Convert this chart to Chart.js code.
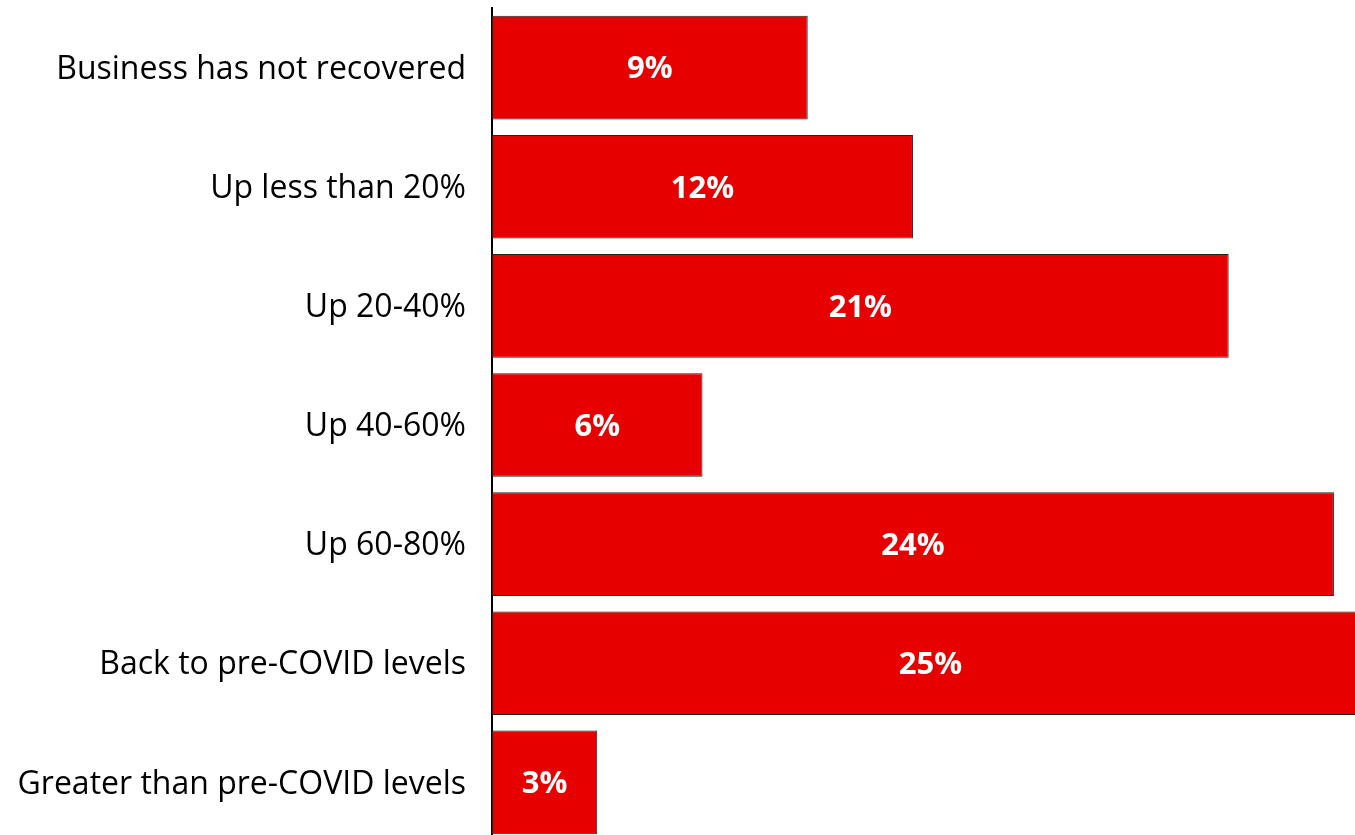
<!DOCTYPE html>
<html>
<head>
<meta charset="utf-8">
<script src="https://cdn.jsdelivr.net/npm/chart.js@4"></script>
<style>
    html, body { margin: 0; padding: 0; overflow: hidden; background: #fff; }
    #wrap { width: 1369px; height: 842px; position: relative; }
</style>
</head>
<body>
<div id="wrap"><canvas id="recoveryChart"></canvas></div>
<script>
const categories = [
    "Business has not recovered",
    "Up less than 20%",
    "Up 20-40%",
    "Up 40-60%",
    "Up 60-80%",
    "Back to pre-COVID levels",
    "Greater than pre-COVID levels"
];
const shares = [9, 12, 21, 6, 24, 25, 3];

const FONT = "'Open Sans', sans-serif";

// Write the value in the middle of each bar
const barLabels = {
    id: "barLabels",
    afterDatasetsDraw(chart) {
        const ctx = chart.ctx;
        const meta = chart.getDatasetMeta(0);
        ctx.save();
        ctx.fillStyle = "#ffffff";
        ctx.font = "bold 31px " + FONT;
        ctx.textAlign = "center";
        ctx.textBaseline = "middle";
        meta.data.forEach((bar, i) => {
            ctx.fillText(shares[i] + "%", (bar.x + bar.base) / 2, bar.y + 2);
        });
        ctx.restore();
    }
};

const ctx = document.getElementById("recoveryChart").getContext("2d");
new Chart(ctx, {
    type: "bar",
    data: {
        labels: categories,
        datasets: [{
            data: shares,
            backgroundColor: "#e60000",
            borderColor: "#222222",
            borderWidth: 1,
            borderSkipped: false,
            categoryPercentage: 1,
            barPercentage: 0.87
        }]
    },
    options: {
        indexAxis: "y",
        responsive: true,
        maintainAspectRatio: false,
        animation: false,
        layout: { padding: { top: 8, left: 0, right: 0, bottom: 0 } },
        plugins: {
            legend: { display: false },
            tooltip: { enabled: false }
        },
        scales: {
            x: {
                display: false,
                min: 0,
                max: 25
            },
            y: {
                grid: { display: false, drawTicks: false },
                border: { display: true, color: "#000000", width: 2 },
                ticks: {
                    color: "#000000",
                    padding: 26,
                    labelOffset: 2,
                    font: { family: FONT, size: 32 }
                },
                afterFit(scale) {
                    scale.width = 492;
                    scale.paddingTop = 0;
                    scale.paddingBottom = 0;
                }
            }
        }
    },
    plugins: [barLabels]
});
</script>
</body>
</html>
